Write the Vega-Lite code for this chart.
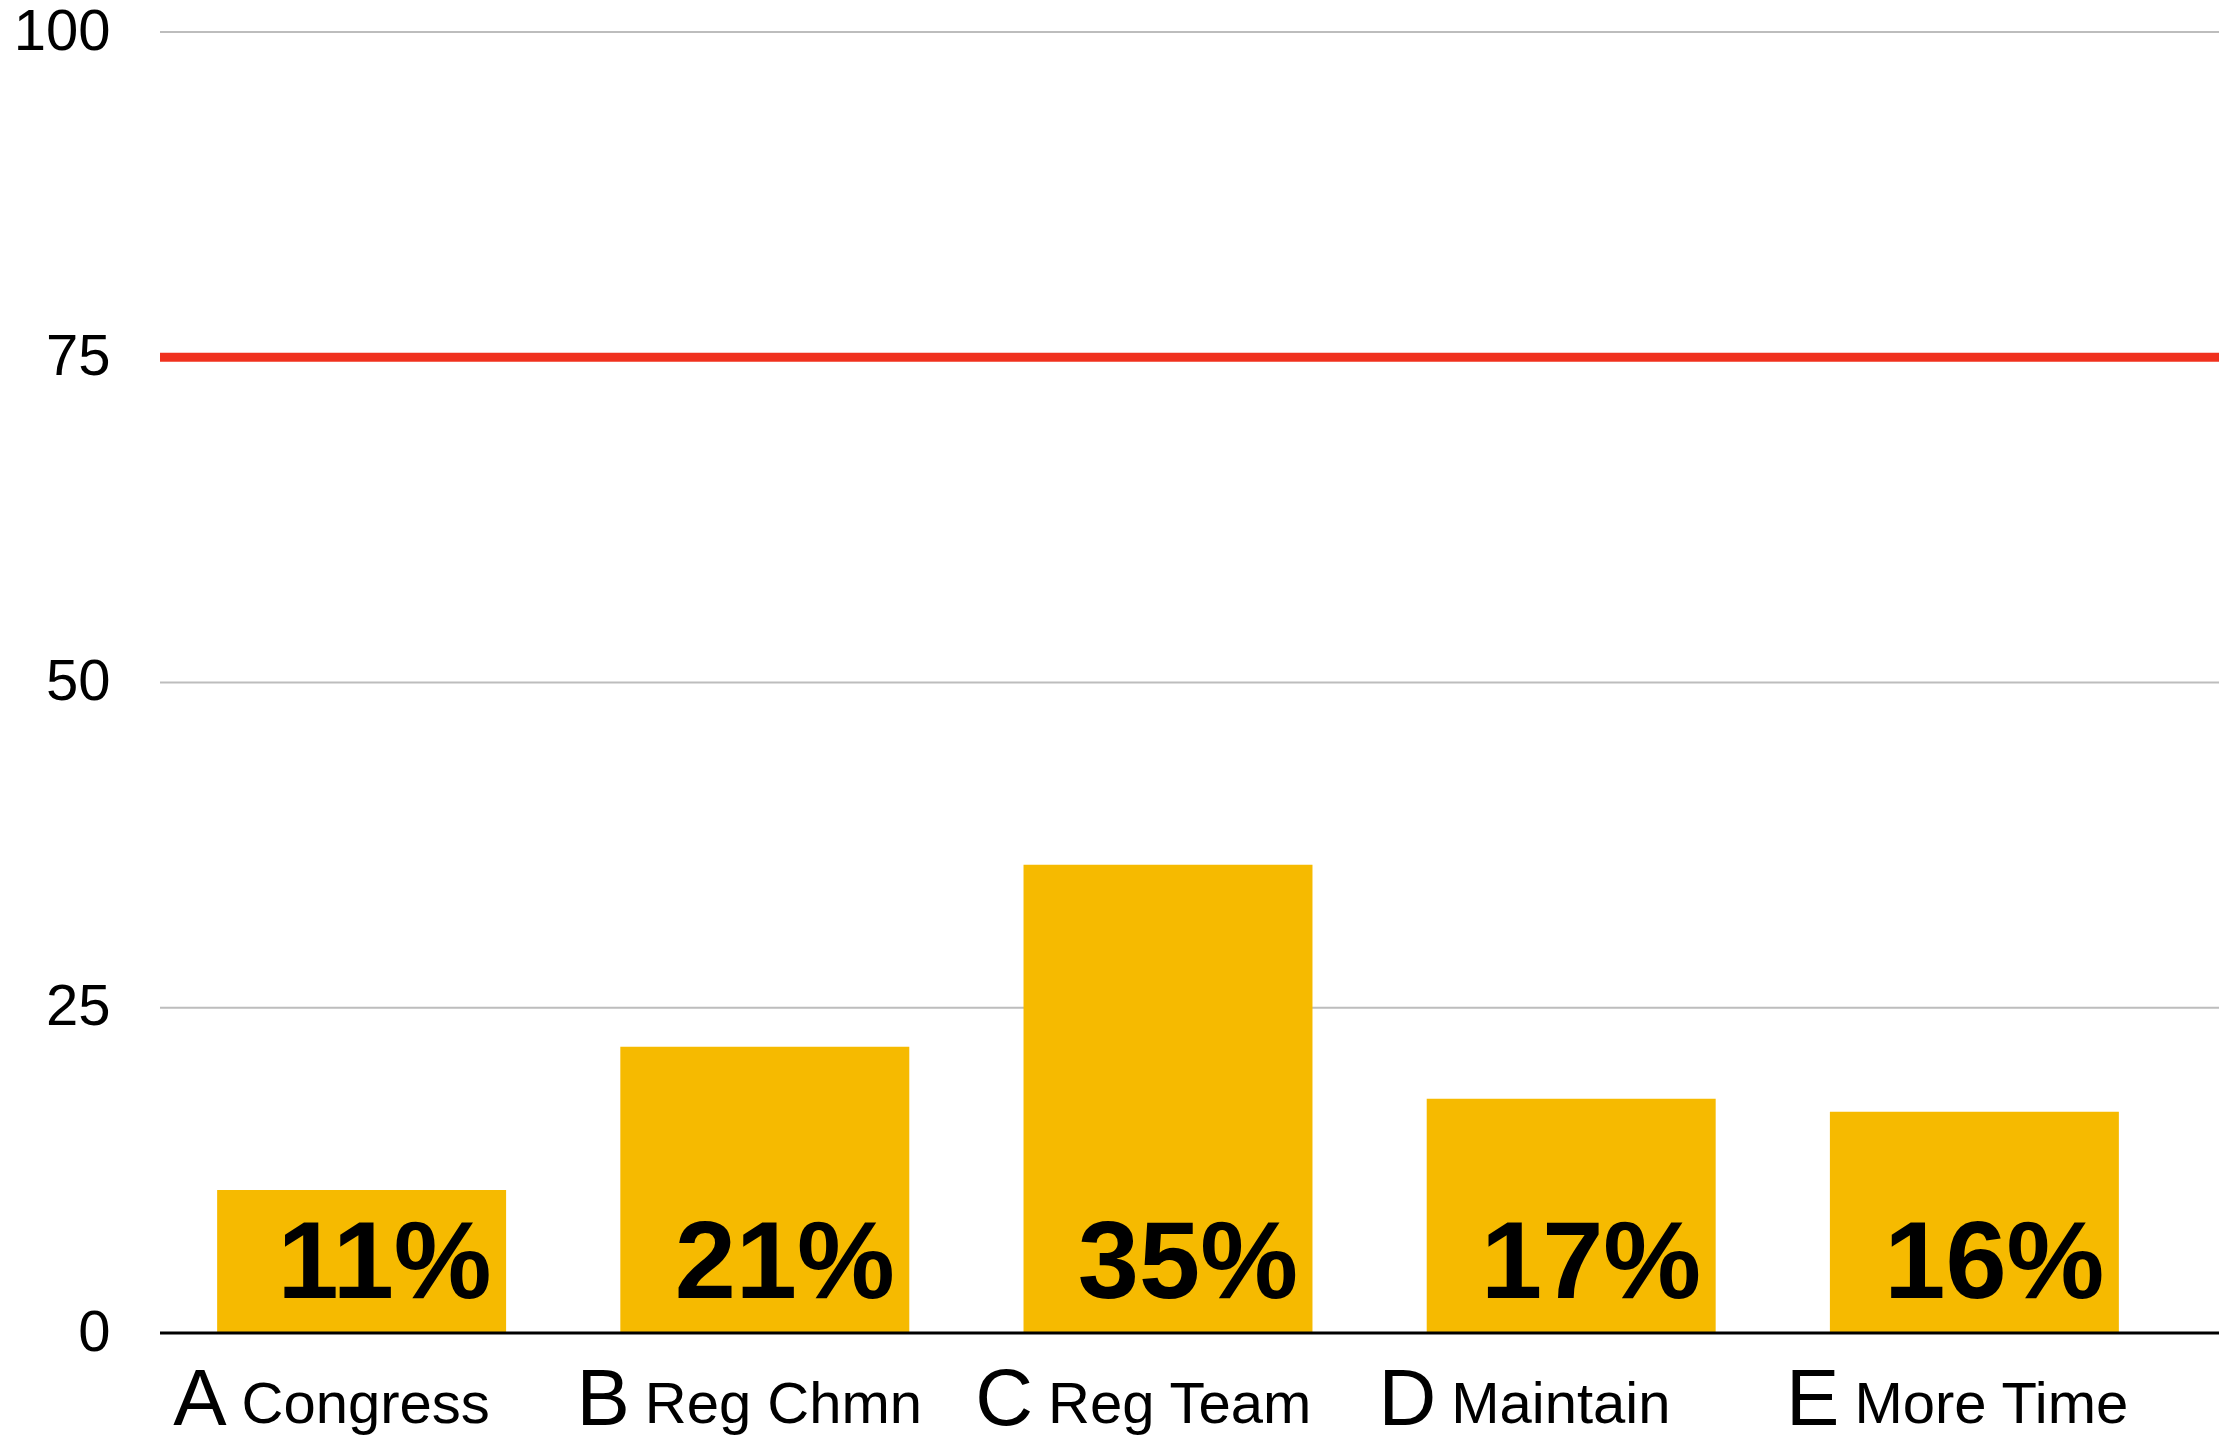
{
  "$schema": "https://vega.github.io/schema/vega-lite/v6.json",
  "autosize": {"type": "none"},
  "padding": {"left": 160, "top": 32, "right": 0, "bottom": 104},
  "width": 2059,
  "height": 1301,
  "background": "white",
  "config": {
    "view": {"stroke": null},
    "font": "Liberation Sans"
  },
  "datasets": {
    "bars": [
      {"cat": "A", "name": "Congress", "value": 11, "label": "11%"},
      {"cat": "B", "name": "Reg Chmn", "value": 22, "label": "21%"},
      {"cat": "C", "name": "Reg Team", "value": 36, "label": "35%"},
      {"cat": "D", "name": "Maintain", "value": 18, "label": "17%"},
      {"cat": "E", "name": "More Time", "value": 17, "label": "16%"}
    ],
    "grid": [
      {"g": 25},
      {"g": 50},
      {"g": 100}
    ],
    "baseline": [
      {"g": 0}
    ],
    "target": [
      {"g": 75}
    ]
  },
  "layer": [
    {
      "data": {"name": "grid"},
      "mark": {"type": "rule", "color": "#bdbdbd", "strokeWidth": 2},
      "encoding": {
        "y": {
          "field": "g",
          "type": "quantitative",
          "scale": {"domain": [0, 100], "nice": false},
          "axis": {
            "values": [0, 25, 50, 75, 100],
            "title": null,
            "domain": false,
            "ticks": false,
            "grid": false,
            "labelFontSize": 58,
            "labelFont": "Liberation Sans",
            "labelColor": "#000000",
            "labelPadding": 50
          }
        }
      }
    },
    {
      "data": {"name": "bars"},
      "encoding": {
        "x": {
          "field": "cat",
          "type": "nominal",
          "sort": null,
          "scale": {"range": [0, 2016], "paddingInner": 0.2833, "paddingOuter": 0.1417},
          "axis": null
        }
      },
      "layer": [
        {
          "mark": {"type": "bar", "color": "#F6BA00"},
          "encoding": {
            "y": {"field": "value", "type": "quantitative"}
          }
        },
        {
          "mark": {"type": "text", "font": "Liberation Sans", "fontWeight": "bold", "fontSize": 110, "align": "right", "baseline": "alphabetic", "dx": 130, "dy": -35, "color": "#000000"},
          "encoding": {
            "y": {"datum": 0, "type": "quantitative"},
            "text": {"field": "label"}
          }
        },
        {
          "mark": {"type": "text", "font": "Liberation Sans", "fontSize": 80, "align": "right", "baseline": "alphabetic", "dx": -135, "dy": 92, "color": "#000000"},
          "encoding": {
            "y": {"datum": 0, "type": "quantitative"},
            "text": {"field": "cat"}
          }
        },
        {
          "mark": {"type": "text", "font": "Liberation Sans", "fontSize": 58, "align": "left", "baseline": "alphabetic", "dx": -120, "dy": 90, "color": "#000000"},
          "encoding": {
            "y": {"datum": 0, "type": "quantitative"},
            "text": {"field": "name"}
          }
        }
      ]
    },
    {
      "data": {"name": "baseline"},
      "mark": {"type": "rule", "color": "#000000", "strokeWidth": 3},
      "encoding": {"y": {"field": "g", "type": "quantitative"}}
    },
    {
      "data": {"name": "target"},
      "mark": {"type": "rule", "color": "#EF2612", "strokeWidth": 9, "opacity": 0.95},
      "encoding": {"y": {"field": "g", "type": "quantitative"}}
    }
  ]
}
